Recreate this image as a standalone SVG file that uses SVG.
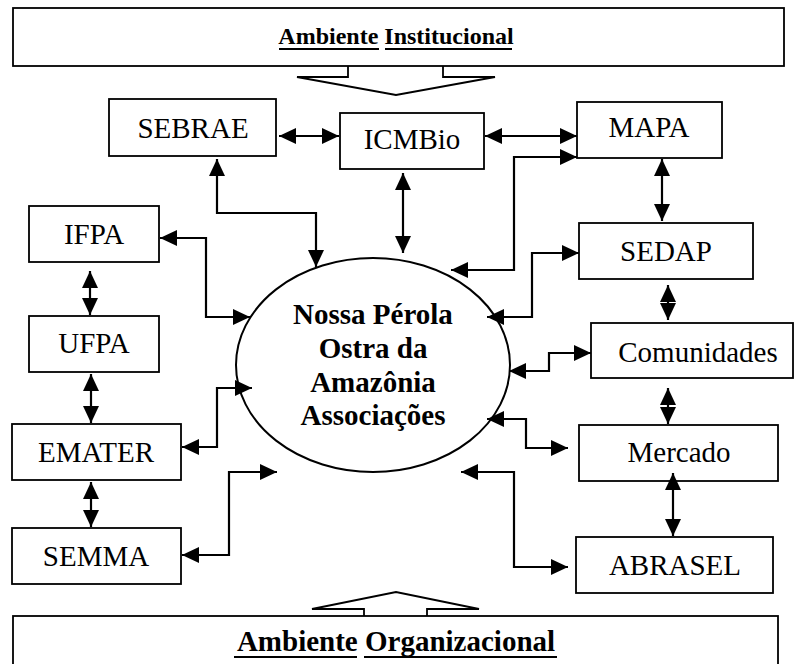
<svg xmlns="http://www.w3.org/2000/svg" width="795" height="664" viewBox="0 0 795 664">
<style>
  .box{fill:#fff;stroke:#000;stroke-width:1.8}
  .t{font-size:29px;text-anchor:middle;fill:#000}
  .tb{font-weight:bold;text-anchor:middle;fill:#000}
  .c{fill:none;stroke:#000;stroke-width:2.2}
  .c2{marker-start:url(#ah);marker-end:url(#ah)}
  .env{fill:none;stroke:#000;stroke-width:1.8}
  .ul{stroke:#000;stroke-width:2}
</style>
<defs>
  <marker id="ah" markerUnits="userSpaceOnUse" markerWidth="17" markerHeight="16" viewBox="0 0 17 16" refX="17" refY="8" orient="auto-start-reverse">
    <path d="M0,0 L17,8 L0,16 z" fill="#000"/>
  </marker>
</defs>
<rect width="795" height="664" fill="#fff"/>

<g font-family="'Liberation Serif', 'DejaVu Serif', 'Times New Roman', serif">
<g id="ambiente-institucional">
  <rect class="box" x="13" y="8" width="771" height="58"/>
  <text class="tb" x="396" y="44" font-size="24">Ambiente Institucional</text>
  <line class="ul" x1="279" y1="49" x2="379" y2="49"/>
  <line class="ul" x1="385" y1="49" x2="512" y2="49"/>
  <polyline class="env" points="348,66 348,77 297,77 396,95 495,77 443,77 443,66"/>
</g>

<g id="ambiente-organizacional">
  <rect class="box" x="13" y="616" width="765" height="60"/>
  <text class="tb" x="396" y="651" font-size="29">Ambiente Organizacional</text>
  <line class="ul" x1="234" y1="657" x2="357" y2="657"/>
  <line class="ul" x1="364" y1="657" x2="557" y2="657"/>
  <polyline class="env" points="364,616 364,609 312,609 396,592 479,609 427,609 427,616"/>
</g>

<g id="nossa-perola">
  <ellipse cx="373" cy="365" rx="137" ry="107" fill="#fff" stroke="#000" stroke-width="2"/>
  <text class="tb" x="373" y="324" font-size="29">Nossa Pérola</text>
  <text class="tb" x="373" y="358" font-size="29">Ostra da</text>
  <text class="tb" x="373" y="392" font-size="29">Amazônia</text>
  <text class="tb" x="373" y="425" font-size="29">Associações</text>
</g>

<g id="sebrae"><rect class="box" x="109" y="99" width="167" height="57"/><text class="t" x="193" y="138">SEBRAE</text></g>
<g id="icmbio"><rect class="box" x="340" y="113" width="144" height="56"/><text class="t" x="412" y="149" font-size="26">ICMBio</text></g>
<g id="mapa"><rect class="box" x="577" y="102" width="145" height="56"/><text class="t" x="649" y="137" font-size="27">MAPA</text></g>
<g id="sedap"><rect class="box" x="579" y="223" width="174" height="56"/><text class="t" x="666" y="261">SEDAP</text></g>
<g id="comunidades"><rect class="box" x="591" y="323" width="202" height="55"/><text class="t" x="698" y="362">Comunidades</text></g>
<g id="mercado"><rect class="box" x="579" y="425" width="199" height="56"/><text class="t" x="679" y="462">Mercado</text></g>
<g id="abrasel"><rect class="box" x="576" y="537" width="197" height="56"/><text class="t" x="675" y="575">ABRASEL</text></g>
<g id="ifpa"><rect class="box" x="29" y="206" width="130" height="56"/><text class="t" x="94" y="244">IFPA</text></g>
<g id="ufpa"><rect class="box" x="29" y="316" width="130" height="56"/><text class="t" x="94" y="353">UFPA</text></g>
<g id="emater"><rect class="box" x="12" y="424" width="169" height="56"/><text class="t" x="96" y="462">EMATER</text></g>
<g id="semma"><rect class="box" x="12" y="528" width="169" height="56"/><text class="t" x="96" y="566">SEMMA</text></g>
</g>

<g id="connectors">
  <line class="c c2" x1="279" y1="136" x2="339" y2="136"/>
  <line class="c c2" x1="485" y1="136" x2="577" y2="136"/>
  <line class="c c2" x1="403" y1="173" x2="403" y2="253"/>
  <line class="c c2" x1="662" y1="159" x2="662" y2="221"/>
  <line class="c c2" x1="668" y1="285" x2="668" y2="320"/>
  <line class="c c2" x1="668" y1="388" x2="668" y2="424"/>
  <line class="c c2" x1="673" y1="473" x2="673" y2="536"/>
  <line class="c c2" x1="90" y1="271" x2="90" y2="315"/>
  <line class="c c2" x1="91" y1="374" x2="91" y2="423"/>
  <line class="c c2" x1="91" y1="482" x2="91" y2="527"/>
  <polyline class="c c2" points="217,159 217,213 316,213 316,267"/>
  <polyline class="c c2" points="160,238 206,238 206,317 250,317"/>
  <polyline class="c c2" points="182,447 217,447 217,388 252,388"/>
  <polyline class="c c2" points="182,555 229,555 229,472 277,472"/>
  <polyline class="c c2" points="451,270 514,270 514,157 577,157"/>
  <polyline class="c c2" points="487,317 532,317 532,253 579,253"/>
  <polyline class="c c2" points="509,371 549,371 549,353 591,353"/>
  <polyline class="c c2" points="487,419 526,419 526,448 568,448"/>
  <polyline class="c c2" points="461,472 514,472 514,567 568,567"/>
</g>
</svg>
